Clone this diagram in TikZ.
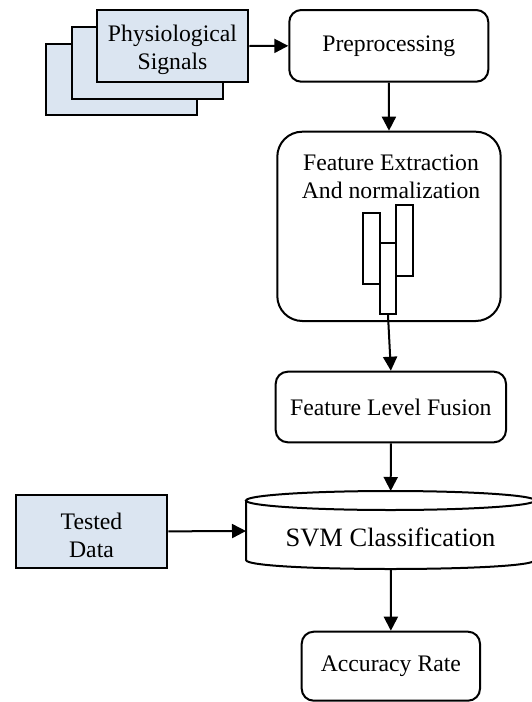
\documentclass[tikz,border=0pt]{standalone}
\usepackage{fontspec}
\setmainfont{Liberation Serif}
\usetikzlibrary{arrows.meta}
\definecolor{boxblue}{HTML}{DBE5F1}
\begin{document}
\begin{tikzpicture}[x=0.5pt,y=-0.5pt,
  every node/.style={font=\fontsize{11.85pt}{14pt}\selectfont, align=center, inner sep=0pt},
  rbox/.style={draw, line width=1pt, rounded corners=6pt},
  bluebox/.style={draw, line width=1pt, fill=boxblue},
  bar/.style={draw, line width=0.9pt, minimum width=8.35pt, minimum height=35.65pt},
  conn/.style={line width=1pt, -{Triangle[length=7pt,width=7pt]}}]
\useasboundingbox (0,0) rectangle (531,702);
% physiological signals stack
\node[bluebox, minimum width=75.8pt, minimum height=35.7pt] (phys3) at (121.5,79.5) {};
\node[bluebox, minimum width=75.8pt, minimum height=35.7pt] (phys2) at (147.5,63) {};
\node[bluebox, minimum width=75.8pt, minimum height=35.7pt] (phys) at (172.5,46) {};
\node (physlabel) at (172.5,50) {Physiological\\Signals};
% preprocessing
\node[rbox, minimum width=99.5pt, minimum height=35.85pt] (pre) at (388.8,45.85) {Preprocessing};
% feature extraction
\node[rbox, rounded corners=12.5pt, minimum width=111.7pt, minimum height=94.65pt] (fe) at (389,226.35) {};
\node (fetext) at (391,176.5) {Feature Extraction\\And normalization};
\node[bar] (bar1) at (371.65,248.35) {};
\node[bar] (bar3) at (404.35,240.5) {};
\node[bar] (bar2) at (388,278.5) {};
% fusion
\node[rbox, minimum width=115.15pt, minimum height=35.3pt] (fusion) at (390.85,407) {Feature Level Fusion};
% SVM cylinder
\draw[line width=1pt, fill=white] (390.5,500.5) ellipse [x radius=144.5, y radius=9.5];
\draw[line width=1pt] (246,500.5) -- (246,560) .. controls (246,572) and (535,572) .. (535,560) -- (535,500.5);
\node[font=\fontsize{13.25pt}{16pt}\selectfont] (svm) at (390.5,537) {SVM Classification};
\coordinate (svmtop) at (390.7,491);
\coordinate (svmleft) at (246,531);
\coordinate (svmbot) at (390.9,569);
% tested data
\node[bluebox, minimum width=75.8pt, minimum height=36.35pt] (tested) at (91.5,531.35) {};
\node (testedlabel) at (91.5,535.5) {Tested\\Data};
% accuracy
\node[rbox, minimum width=89.15pt, minimum height=34.5pt] (acc) at (390.85,666.2) {Accuracy Rate};
% connectors
\draw[conn] (phys.east) -- (pre.west);
\draw[conn] (pre.south) -- (fe.north);
\draw[conn] (bar2.south) -- (fusion.north);
\draw[conn] (fusion.south) -- (svmtop);
\draw[conn] (tested.east) -- (svmleft);
\draw[conn] (svmbot) -- (acc.north);
\end{tikzpicture}
\end{document}
